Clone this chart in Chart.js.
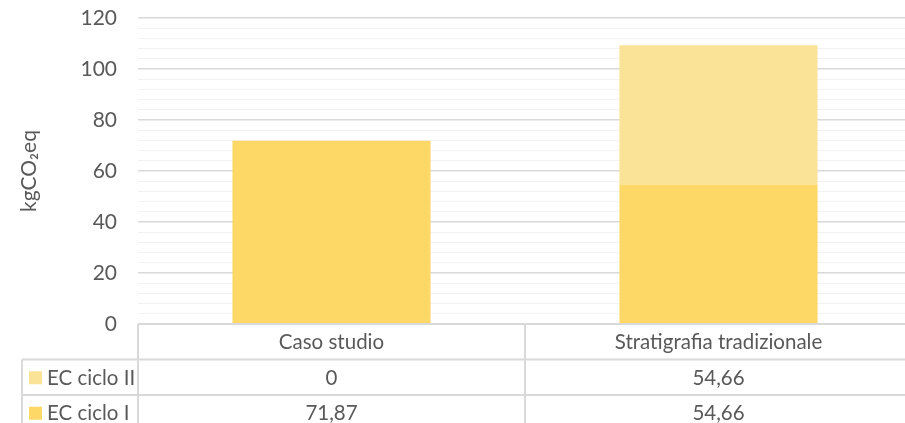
<!DOCTYPE html>
<html>
<head>
<meta charset="utf-8">
<script src="https://cdn.jsdelivr.net/npm/chart.js@4.4.1/dist/chart.umd.min.js"></script>
<style>
  html, body { margin:0; padding:0; background:#fff; overflow:hidden; }
  #wrap { width:912px; height:423px; }
</style>
</head>
<body>
<div id="wrap"><canvas id="ecChart" width="912" height="423"></canvas></div>
<script>
"use strict";

const CATEGORIES = ["Caso studio", "Stratigrafia tradizionale"];
const EC_CICLO_I  = [71.87, 54.66];
const EC_CICLO_II = [0, 54.66];
const Y_TICKS = [0, 20, 40, 60, 80, 100, 120];

const TEXT  = "#595959";
const LINE  = "#d9d9d9";
const FONT  = "Lato, 'Liberation Sans', sans-serif";
const YELLOW_I  = "#fed866";
const YELLOW_II = "#fae396";

const fmt = v => String(v).replace(".", ",");

// data table under the plot: header row with the categories, one row per series
const tablePlugin = {
  id: "dataTable",
  afterDraw(chart) {
    const ctx = chart.ctx;
    const x = chart.scales.x;
    const area = chart.chartArea;
    const top = area.bottom;
    const rowH = 35.5;
    const right = chart.width;
    const left = 22;
    const mid = (x.getPixelForValue(0) + x.getPixelForValue(1)) / 2;
    const rows = [
      { label: "EC ciclo II", color: YELLOW_II, values: EC_CICLO_II },
      { label: "EC ciclo I",  color: YELLOW_I,  values: EC_CICLO_I }
    ];

    ctx.save();
    ctx.strokeStyle = LINE;
    ctx.lineWidth = 2;
    ctx.beginPath();
    ctx.moveTo(area.left, top); ctx.lineTo(right, top);
    for (let r = 1; r <= rows.length; r++) {
      ctx.moveTo(left, top + rowH * r); ctx.lineTo(right, top + rowH * r);
    }
    ctx.moveTo(area.left, top); ctx.lineTo(area.left, chart.height);
    ctx.moveTo(mid, top); ctx.lineTo(mid, chart.height);
    ctx.moveTo(left, top + rowH); ctx.lineTo(left, chart.height);
    ctx.stroke();

    ctx.font = "20.5px " + FONT;
    ctx.fillStyle = TEXT;
    ctx.textAlign = "center";
    ctx.textBaseline = "middle";
    CATEGORIES.forEach((c, i) => ctx.fillText(c, x.getPixelForValue(i), top + rowH / 2 + 1));

    rows.forEach((row, r) => {
      const cy = top + rowH * (r + 1) + rowH / 2 + 1;
      ctx.fillStyle = row.color;
      ctx.fillRect(29, cy - 7, 13, 13);
      ctx.fillStyle = TEXT;
      ctx.textAlign = "left";
      ctx.fillText(row.label, 47, cy);
      ctx.textAlign = "center";
      row.values.forEach((v, i) => ctx.fillText(fmt(v), x.getPixelForValue(i), cy));
    });
    ctx.restore();
  }
};

new Chart(document.getElementById("ecChart"), {
  type: "bar",
  data: {
    labels: CATEGORIES,
    datasets: [
      { label: "EC ciclo I",  data: EC_CICLO_I,  backgroundColor: YELLOW_I },
      { label: "EC ciclo II", data: EC_CICLO_II, backgroundColor: YELLOW_II }
    ]
  },
  options: {
    responsive: false,
    animation: false,
    devicePixelRatio: 1,
    layout: { padding: { top: 18, left: 0, right: 0, bottom: 0 } },
    plugins: { legend: { display: false }, tooltip: { enabled: false } },
    datasets: { bar: { categoryPercentage: 1, barPercentage: 0.512, borderWidth: 0 } },
    scales: {
      x: {
        stacked: true,
        grid: { display: false, drawTicks: false },
        border: { display: false },
        ticks: { display: false },
        afterFit(scale) { scale.height = 99; }
      },
      y: {
        stacked: true,
        min: Y_TICKS[0],
        max: Y_TICKS[Y_TICKS.length - 1],
        border: { display: false },
        grid: {
          drawTicks: false,
          color: c => (c.tick && Y_TICKS.includes(c.tick.value)) ? LINE : "#f2f2f2",
          lineWidth: c => (c.tick && Y_TICKS.includes(c.tick.value)) ? 1.5 : 1
        },
        ticks: {
          stepSize: 4,
          autoSkip: false,
          padding: 21,
          color: TEXT,
          font: { family: FONT, size: 21 },
          callback: v => Y_TICKS.includes(v) ? String(v) : ""
        },
        title: {
          display: true,
          text: "kgCO\u2082eq",
          color: TEXT,
          font: { family: FONT, size: 21 },
          padding: { top: 17, bottom: 0 }
        },
        afterFit(scale) {
          scale.width = 138;
          scale.paddingTop = 0;
          scale.paddingBottom = 0;
        }
      }
    }
  },
  plugins: [tablePlugin]
});
</script>
</body>
</html>
